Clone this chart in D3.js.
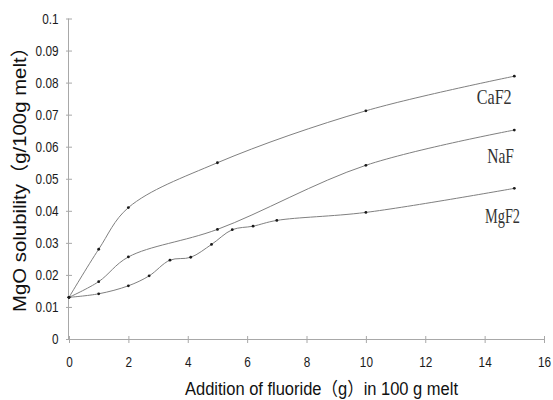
<!DOCTYPE html>
<html>
<head>
<meta charset="utf-8">
<script src="https://cdn.jsdelivr.net/npm/d3@7"></script>
<style>
  html, body { margin: 0; padding: 0; background: #fff; }
  svg { display: block; }
</style>
</head>
<body>
<svg id="chart" width="553" height="400"></svg>
<script>
// ---- data ----
const xTicks = [0, 2, 4, 6, 8, 10, 12, 14, 16];
const yTicks = [0, 0.01, 0.02, 0.03, 0.04, 0.05, 0.06, 0.07, 0.08, 0.09, 0.1];
const yTickLabels = ["0", "0.01", "0.02", "0.03", "0.04", "0.05", "0.06", "0.07", "0.08", "0.09", "0.1"];

const xCaF2 = [0, 1, 2, 5, 10, 15];
const yCaF2 = [0.013, 0.028, 0.041, 0.055, 0.0712, 0.082];

const xNaF = [0, 1, 2, 5, 10, 15];
const yNaF = [0.013, 0.0179, 0.0256, 0.0342, 0.0542, 0.0652];

const xMgF2 = [0, 1, 2, 2.7, 3.4, 4.1, 4.8, 5.5, 6.2, 7, 10, 15];
const yMgF2 = [0.013, 0.0141, 0.0166, 0.0197, 0.0246, 0.0255, 0.0295, 0.0341, 0.0352, 0.037, 0.0395, 0.047];

const seriesNames = ["CaF2", "NaF", "MgF2"];
const xTitle = "Addition of fluoride（g）in 100 g melt";
const yTitle = "MgO solubility（g/100g melt）";

// ---- layout ----
const svg = d3.select("#chart");
const x = d3.scaleLinear().domain([0, 16]).range([69, 544]);
const y = d3.scaleLinear().domain([0, 0.1]).range([339, 18.5]);

const axisColor = "#a8a8a8";
const lineColor = "#808080";
const tickFont = "'Liberation Sans', Arial, sans-serif";

function squeeze(sel, f) {
  sel.each(function () {
    const L = this.getComputedTextLength();
    d3.select(this).attr("textLength", L * f).attr("lengthAdjust", "spacingAndGlyphs");
  });
}

// x axis
const gx = svg.append("g").attr("transform", `translate(0,${y(0)})`)
  .call(d3.axisBottom(x).tickValues(xTicks).tickFormat(d3.format("d")).tickSizeOuter(0).tickSizeInner(4));
gx.select(".domain").attr("stroke", axisColor).attr("d", `M${x(0)},0.5H${x(16)}`);
gx.selectAll(".tick line").attr("stroke", axisColor).attr("y1", -3).attr("y2", 4);
gx.selectAll(".tick text").attr("y", 18).attr("dy", "0.71em")
  .attr("fill", "#1a1a1a").style("font-family", tickFont).style("font-size", "14px");
squeeze(gx.selectAll(".tick text"), 0.84);

// y axis
const gy = svg.append("g").attr("transform", `translate(${x(0)},0)`)
  .call(d3.axisLeft(y).tickValues(yTicks).tickFormat((d, i) => yTickLabels[i]).tickSizeOuter(0).tickSizeInner(3));
gy.select(".domain").attr("stroke", axisColor).attr("d", `M-0.5,${y(0.1)}V${y(0)}`);
gy.selectAll(".tick line").attr("stroke", axisColor).attr("x1", -3).attr("x2", 3);
gy.selectAll(".tick text").attr("x", -10.5).attr("dy", "0.34em")
  .attr("fill", "#1a1a1a").style("font-family", tickFont).style("font-size", "14px");
squeeze(gy.selectAll(".tick text"), 0.84);

// lines
const seriesData = [
  xCaF2.map((d, i) => [d, yCaF2[i]]),
  xNaF.map((d, i) => [d, yNaF[i]]),
  xMgF2.map((d, i) => [d, yMgF2[i]])
];
const line = d3.line().x(d => x(d[0])).y(d => y(d[1])).curve(d3.curveCatmullRom.alpha(0.5));

seriesData.forEach(data => {
  svg.append("path").datum(data).attr("d", line)
    .attr("fill", "none").attr("stroke", lineColor).attr("stroke-width", 1);
  svg.append("g").selectAll("circle").data(data).join("circle")
    .attr("cx", d => x(d[0])).attr("cy", d => y(d[1])).attr("r", 1.4).attr("fill", "#1a1a1a");
});

// series labels (serif, condensed)
const labelPos = [
  { name: seriesNames[0], x: 476.7, y: 104, w: 35 },
  { name: seriesNames[1], x: 487.3, y: 163, w: 26.7 },
  { name: seriesNames[2], x: 485, y: 223, w: 35 }
];
labelPos.forEach(p => {
  svg.append("text").attr("x", p.x).attr("y", p.y).text(p.name)
    .attr("fill", "#333").style("font-family", "'Liberation Serif', 'DejaVu Serif', serif")
    .style("font-size", "21px").attr("textLength", p.w).attr("lengthAdjust", "spacingAndGlyphs");
});

// axis titles
svg.append("text").attr("x", 185).attr("y", 395).text(xTitle)
  .attr("fill", "#111").style("font-family", "'Liberation Sans', Arial, 'Noto Sans CJK SC', sans-serif")
  .style("font-size", "18px").attr("textLength", 273).attr("lengthAdjust", "spacingAndGlyphs");

svg.append("text").attr("transform", "translate(26,312) rotate(-90)").text(yTitle)
  .attr("fill", "#111").style("font-family", "'Liberation Sans', Arial, 'Noto Sans CJK SC', sans-serif")
  .style("font-size", "18.5px").attr("textLength", 275).attr("lengthAdjust", "spacingAndGlyphs");
</script>
</body>
</html>
